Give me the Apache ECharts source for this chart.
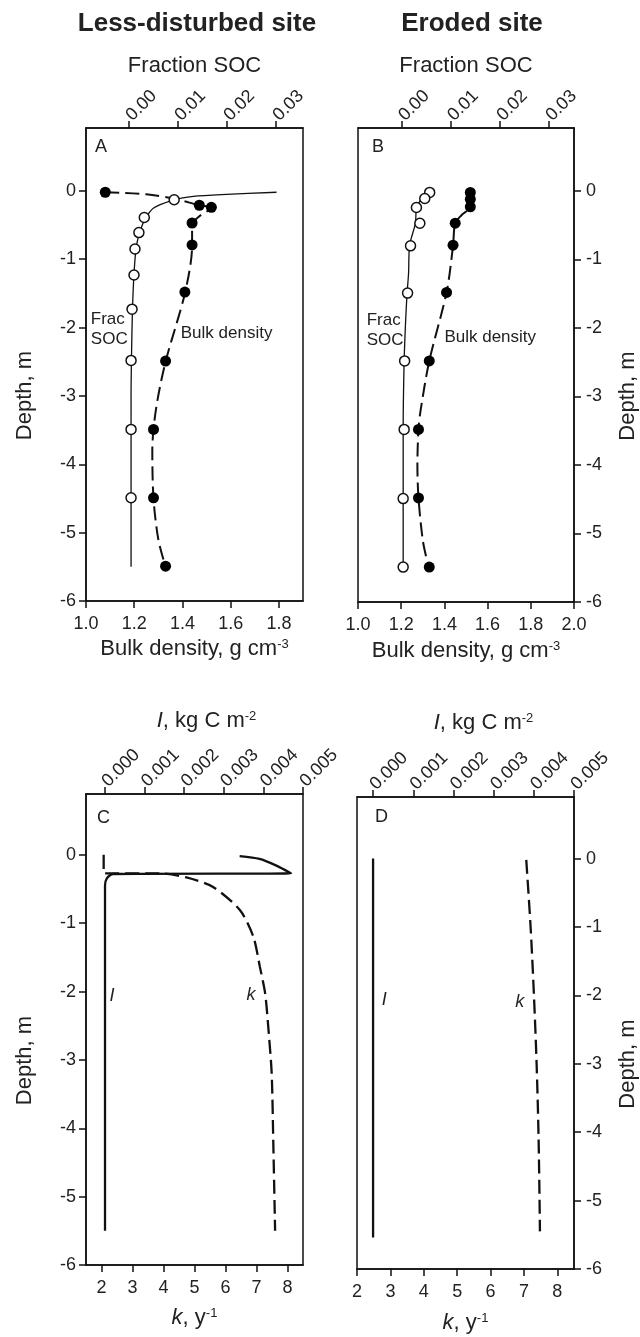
<!DOCTYPE html>
<html>
<head>
<meta charset="utf-8">
<title>Soil depth profiles</title>
<script src="https://cdn.jsdelivr.net/npm/echarts@6/dist/echarts.min.js"></script>
<style>
  html, body { margin: 0; padding: 0; background: #fff; }
  #chart { width: 640px; height: 1337px; }
</style>
</head>
<body>
<div id="chart"></div>
<script>
// ---- values ----

// A: less-disturbed site, measured points
const bdDepthA = [-0.02, -0.21, -0.24, -0.47, -0.79, -1.48, -2.49, -3.49, -4.49, -5.49]
const bdA = [1.08, 1.47, 1.52, 1.44, 1.44, 1.41, 1.33, 1.28, 1.28, 1.33]
const socDepthA = [-0.13, -0.39, -0.61, -0.85, -1.23, -1.73, -2.48, -3.49, -4.49]
const socA = [0.0092, 0.0031, 0.0020, 0.0012, 0.0010, 0.0006, 0.0004, 0.0004, 0.0004]
// A: fitted curves
const bdFitDepthA = [-0.02, -0.05, -0.11, -0.21, -0.25, -0.37, -0.5, -0.8, -1.5, -2.5, -3.2, -3.8, -4.5, -5.1, -5.5]
const bdFitA = [1.08, 1.25, 1.36, 1.47, 1.52, 1.47, 1.44, 1.44, 1.41, 1.33, 1.29, 1.275, 1.28, 1.30, 1.33]
const socFitDepthA = [-5.5, -3.0, -2.0, -1.5, -1.1, -0.8, -0.6, -0.42, -0.25, -0.13, -0.08, -0.05, -0.02]
const socFitA = [0.0004, 0.0004, 0.0006, 0.0008, 0.0011, 0.0015, 0.0022, 0.0032, 0.0050, 0.0092, 0.0131, 0.0199, 0.0301]

// B: eroded site, measured points
const bdDepthB = [-0.02, -0.12, -0.23, -0.47, -0.79, -1.48, -2.48, -3.48, -4.48, -5.49]
const bdB = [1.52, 1.52, 1.52, 1.45, 1.44, 1.41, 1.33, 1.28, 1.28, 1.33]
const socDepthB = [-0.02, -0.11, -0.24, -0.47, -0.80, -1.49, -2.48, -3.48, -4.49, -5.49]
const socB = [0.0057, 0.0047, 0.0030, 0.0037, 0.0018, 0.0012, 0.0006, 0.0005, 0.0003, 0.0003]
// B: fitted curves
const bdFitDepthB = [-0.02, -0.23, -0.35, -0.47, -0.8, -1.48, -2.48, -3.2, -3.48, -4.0, -4.48, -5.1, -5.4]
const bdFitB = [1.52, 1.52, 1.48, 1.45, 1.44, 1.41, 1.33, 1.29, 1.28, 1.275, 1.28, 1.30, 1.32]
const socFitDepthB = [-0.02, -0.11, -0.26, -0.47, -0.8, -1.2, -1.49, -1.9, -2.48, -3.48, -5.5]
const socFitB = [0.0053, 0.0040, 0.0030, 0.0028, 0.0016, 0.0014, 0.0011, 0.0008, 0.0005, 0.0003, 0.0003]

// C: less-disturbed site, k (y-1) and I (kg C m-2)
const kDepthC = [0, -0.27, -0.27, -0.33, -0.47, -0.81, -1.2, -1.64, -2.03, -2.52, -3.2, -4.17, -5.5]
const kC = [2.07, 2.07, 3.9, 4.74, 5.6, 6.47, 6.9, 7.11, 7.28, 7.38, 7.49, 7.54, 7.6]
const iDepthC = [-0.02, -0.06, -0.15, -0.27, -0.28, -0.34, -0.45, -5.5]
const iC = [0.0034, 0.0039, 0.0043, 0.0047, 0.0002, 0.00005, 0.0, 0.0]

// D: eroded site
const kDepthD = [-0.02, -1.0, -2.0, -3.0, -4.1, -5.45]
const kD = [7.07, 7.2, 7.3, 7.38, 7.44, 7.48]
const iDepthD = [0, -1.1, -2.2, -5.54]
const iD = [0, 0, 0, 0]

// tick labels
const depthTicks = ['0', '-1', '-2', '-3', '-4', '-5', '-6']
const bdTicksA = ['1.0', '1.2', '1.4', '1.6', '1.8']
const bdTicksB = ['1.0', '1.2', '1.4', '1.6', '1.8', '2.0']
const socTicks = ['0.00', '0.01', '0.02', '0.03']
const kTicks = ['2', '3', '4', '5', '6', '7', '8']
const iTicks = ['0.000', '0.001', '0.002', '0.003', '0.004', '0.005']

// curve / text annotations (data coordinates on the bottom axis)
const notesA = [['Frac\nSOC', 1.02, -2.02], ['Bulk density', 1.393, -2.08]]
const notesB = [['Frac\nSOC', 1.04, -2.04], ['Bulk density', 1.40, -2.13]]
const notesC = [['I', 2.26, -2.07], ['k', 6.68, -2.05]]
const notesD = [['I', 2.74, -2.07], ['k', 6.74, -2.09]]

// ---- chart ----
const FONT = '"Liberation Sans", Arial, Helvetica, sans-serif'
const INK = '#111'
const TXT = '#222'

const zip = (xs, ys) => xs.map((x, i) => [x, ys[i]])

const richStyles = {
  sup: { fontSize: 13, fontFamily: FONT, color: TXT, verticalAlign: 'top' },
  i: { fontSize: 22, fontFamily: FONT, color: TXT, fontStyle: 'italic' }
}

function axis(gridIndex, position, min, max, labels, extra) {
  const vals = labels.map(Number)
  const a = {
    type: 'value',
    gridIndex,
    position,
    min,
    max,
    splitLine: { show: false },
    axisLine: { show: true, onZero: false, lineStyle: { color: INK, width: 1.5 } },
    axisTick: { show: true, length: 7, customValues: vals, lineStyle: { color: INK, width: 1.5 } },
    axisLabel: {
      customValues: vals,
      fontSize: 18,
      fontFamily: FONT,
      color: TXT,
      formatter: (v) => {
        const idx = vals.findIndex(t => Math.abs(t - v) < 1e-9)
        return idx >= 0 ? labels[idx] : ''
      }
    },
    nameLocation: 'middle',
    nameTextStyle: { fontSize: 22, fontFamily: FONT, color: TXT, rich: richStyles }
  }
  if (extra) {
    for (const key in extra) {
      if (typeof extra[key] === 'object' && a[key]) Object.assign(a[key], extra[key])
      else a[key] = extra[key]
    }
  }
  return a
}

const topLabel = { rotate: -45, margin: 10 }
const depthName = 'Depth, m'

const xAxes = [
  axis(0, 'bottom', 1.0, 1.9, bdTicksA, { name: 'Bulk density, g cm{sup|-3}', nameGap: 37, axisLabel: { margin: 14 } }),
  axis(0, 'top', -0.0088, 0.0355, socTicks, { name: 'Fraction SOC', nameGap: 51, axisLabel: topLabel }),
  axis(1, 'bottom', 1.0, 2.0, bdTicksB, { name: 'Bulk density, g cm{sup|-3}', nameGap: 38, axisLabel: { margin: 14 } }),
  axis(1, 'top', -0.0089, 0.0351, socTicks, { name: 'Fraction SOC', nameGap: 51, axisLabel: topLabel }),
  axis(2, 'bottom', 1.5, 8.5, kTicks, { name: '{i|k}, y{sup|-1}', nameGap: 42, axisLabel: { margin: 14 } }),
  axis(2, 'top', -0.00048, 0.005, iTicks, { name: '{i|I}, kg C m{sup|-2}', nameGap: 62, axisLabel: topLabel,
    nameTextStyle: { padding: [0, 0, 0, 24] } }),
  axis(3, 'bottom', 2.0, 8.5, kTicks, { name: '{i|k}, y{sup|-1}', nameGap: 43, axisLabel: { margin: 14 } }),
  axis(3, 'top', -0.0004, 0.005, iTicks, { name: '{i|I}, kg C m{sup|-2}', nameGap: 63, axisLabel: topLabel,
    nameTextStyle: { padding: [0, 0, 0, 36] } })
]

const yAxes = [
  axis(0, 'left', -6, 0.92, depthTicks, { name: depthName, nameGap: 50, nameRotate: 90, axisLabel: { margin: 10 },
    nameTextStyle: { padding: [0, 62, 0, 0] } }),
  axis(1, 'right', -6, 0.92, depthTicks, { name: depthName, nameGap: 43, nameRotate: 90, axisLabel: { margin: 12 },
    nameTextStyle: { padding: [0, 62, 0, 0] } }),
  axis(2, 'left', -6, 0.89, depthTicks, { name: depthName, nameGap: 50, nameRotate: 90, axisLabel: { margin: 10 },
    nameTextStyle: { padding: [0, 62, 0, 0] } }),
  axis(3, 'right', -6, 0.9, depthTicks, { name: depthName, nameGap: 43, nameRotate: 90, axisLabel: { margin: 12 },
    nameTextStyle: { padding: [0, 62, 0, 0] } })
]

function fitLine(xIdx, yIdx, data, dashed, width, smooth) {
  return {
    type: 'line', xAxisIndex: xIdx, yAxisIndex: yIdx, data,
    symbol: 'none', smooth: smooth,
    lineStyle: { color: INK, width, type: dashed ? [14, 6] : 'solid' },
    z: 2
  }
}

function points(xIdx, yIdx, data, open) {
  return {
    type: 'scatter', xAxisIndex: xIdx, yAxisIndex: yIdx, data,
    symbol: 'circle', symbolSize: open ? 10 : 11,
    itemStyle: open
      ? { color: '#fff', borderColor: INK, borderWidth: 1.5, opacity: 1 }
      : { color: '#000', opacity: 1 },
    z: 3
  }
}

function notes(xIdx, yIdx, list, italic) {
  return {
    type: 'scatter', xAxisIndex: xIdx, yAxisIndex: yIdx,
    symbolSize: 0,
    itemStyle: { opacity: 1 },
    data: list.map(n => ({ name: n[0], value: [n[1], n[2]] })),
    label: {
      show: true, position: 'right', distance: 0,
      formatter: (p) => p.name,
      fontSize: italic ? 18 : 17, lineHeight: 20,
      fontStyle: italic ? 'italic' : 'normal',
      fontFamily: FONT, color: TXT
    },
    z: 4
  }
}

const series = [
  // A
  fitLine(1, 0, zip(socFitA, socFitDepthA), false, 1.3, 0.3),
  fitLine(0, 0, zip(bdFitA, bdFitDepthA), true, 2, 0.3),
  points(0, 0, zip(bdA, bdDepthA), false),
  points(1, 0, zip(socA, socDepthA), true),
  notes(0, 0, notesA, false),
  // B
  fitLine(3, 1, zip(socFitB, socFitDepthB), false, 1.3, 0.3),
  fitLine(2, 1, zip(bdFitB, bdFitDepthB), true, 2, 0.3),
  points(2, 1, zip(bdB, bdDepthB), false),
  points(3, 1, zip(socB, socDepthB), true),
  notes(2, 1, notesB, false),
  // C
  fitLine(4, 2, zip(kC, kDepthC), true, 2.3, 0.25),
  fitLine(5, 2, zip(iC, iDepthC), false, 2.3, 0.25),
  notes(4, 2, notesC, true),
  // D
  fitLine(6, 3, zip(kD, kDepthD), true, 2.3, 0.3),
  fitLine(7, 3, zip(iD, iDepthD), false, 2.3, 0),
  notes(6, 3, notesD, true)
]

const gridBox = { show: true, borderColor: INK, borderWidth: 1.5, backgroundColor: 'transparent' }

function heading(text, x, y, size, bold) {
  return {
    type: 'text', x, y, silent: true,
    style: {
      text, fill: TXT,
      font: (bold ? 'bold ' : '') + size + 'px ' + FONT,
      textAlign: bold ? 'center' : 'left',
      textVerticalAlign: 'middle'
    }
  }
}

const chart = echarts.init(document.getElementById('chart'))
chart.setOption({
  animation: false,
  backgroundColor: '#fff',
  textStyle: { fontFamily: FONT },
  grid: [
    Object.assign({ left: 86, top: 128, width: 217, height: 473 }, gridBox),
    Object.assign({ left: 358, top: 128, width: 217, height: 474 }, gridBox),
    Object.assign({ left: 86, top: 794, width: 217, height: 471 }, gridBox),
    Object.assign({ left: 357, top: 797, width: 217, height: 472 }, gridBox)
  ],
  xAxis: xAxes,
  yAxis: yAxes,
  series,
  graphic: [
    heading('Less-disturbed site', 197, 24, 26, true),
    heading('Eroded site', 472, 24, 26, true),
    heading('A', 95, 147, 18, false),
    heading('B', 372, 147, 18, false),
    heading('C', 97, 818, 18, false),
    heading('D', 375, 817, 18, false)
  ]
})
</script>
</body>
</html>
